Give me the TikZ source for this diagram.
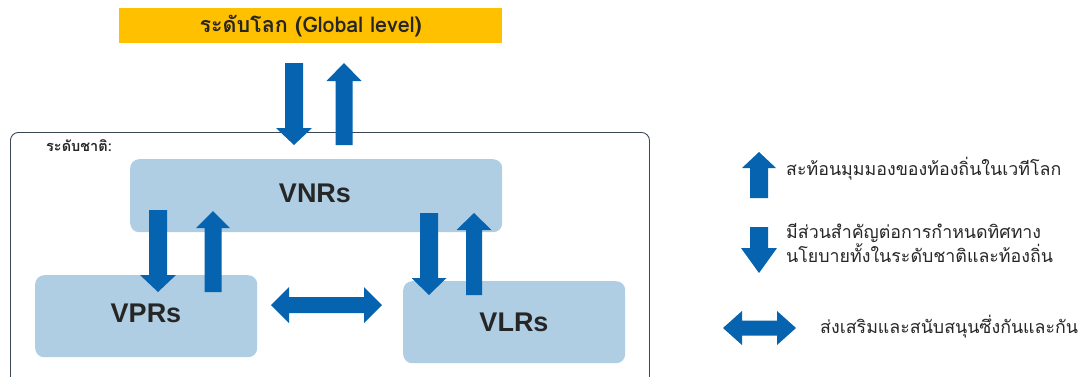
\documentclass[tikz,border=0pt]{standalone}
\usepackage{fontspec}
\setmainfont{Liberation Sans}
\newfontfamily\thaifont[Script=Thai]{Loma}
\definecolor{arrowblue}{RGB}{5,99,175}
\definecolor{boxblue}{RGB}{176,206,227}
\definecolor{gold}{RGB}{255,192,0}
\definecolor{framecol}{RGB}{60,70,85}
\definecolor{textcol}{RGB}{38,38,38}
\newcommand\BlockArr[6]{\fill[arrowblue] ({#1-#5},#2) -- ({#1+#5},#2) -- ({#1+#5},#4) -- ({#1+#6},#4) -- (#1,#3) -- ({#1-#6},#4) -- ({#1-#5},#4) -- cycle;}
\newcommand\DblArr[6]{\fill[arrowblue] (#1,#3) -- ({#1+#4},{#3-#6}) -- ({#1+#4},{#3-#5}) -- ({#2-#4},{#3-#5}) -- ({#2-#4},{#3-#6}) -- (#2,#3) -- ({#2-#4},{#3+#6}) -- ({#2-#4},{#3+#5}) -- ({#1+#4},{#3+#5}) -- ({#1+#4},{#3+#6}) -- cycle;}
\tikzset{
  levelbox/.style={fill=boxblue, rounded corners=9pt, inner sep=0pt, anchor=north west},
  boxtext/.style={font=\bfseries\fontsize{27}{30}\selectfont, text=textcol},
  legendtext/.style={font=\thaifont\fontsize{17.8}{24}\selectfont, text=textcol, anchor=west, align=left, inner sep=0pt}
}
\begin{document}
\begin{tikzpicture}[x=1pt,y=-1pt]
\useasboundingbox (0,0) rectangle (1086,376);
% global level bar
\node[fill=gold, minimum width=383pt, minimum height=35pt, inner sep=0pt, anchor=north west,
  font=\thaifont\bfseries\fontsize{21.5}{24}\selectfont, text=textcol] (global) at (119,8) {ระดับโลก (Global level)};
% national frame
\node[draw=framecol, line width=0.9pt, rounded corners=8pt, minimum width=639pt, minimum height=260pt, inner sep=0pt, anchor=north west] (national) at (10,132) {};
\node[anchor=west, inner sep=0pt, font=\thaifont\bfseries\fontsize{14.5}{16}\selectfont, text=textcol] (natlabel) at (46,146) {ระดับชาติ:};
% level boxes
\node[levelbox, minimum width=372pt, minimum height=73pt] (vnr) at (130,159) {};
\node[boxtext] (vnrtxt) at (315,193) {VNRs};
\node[levelbox, minimum width=222pt, minimum height=82pt] (vpr) at (35,275) {};
\node[boxtext] (vprtxt) at (146,313) {VPRs};
\node[levelbox, minimum width=222pt, minimum height=82pt] (vlr) at (403,281) {};
\node[boxtext] (vlrtxt) at (514,322) {VLRs};
% arrows
\BlockArr{294}{63}{145}{128}{9}{18}
\BlockArr{344}{145}{63}{81}{8.5}{17.5}
\BlockArr{158}{210}{292}{275}{9}{18}
\BlockArr{213}{292}{211}{228}{8.5}{17}
\BlockArr{429}{213}{295}{278}{9}{17.5}
\BlockArr{474}{295}{213}{230}{8}{17.5}
\DblArr{271}{382}{305}{18}{8}{18}
% legend
\BlockArr{759}{198}{152}{168}{9}{17}
\BlockArr{759}{227}{273}{248}{9}{18}
\DblArr{723}{796}{328}{19}{7.5}{17}
\node[legendtext] (leg1) at (786,169) {สะท้อนมุมมองของท้องถิ่นในเวทีโลก};
\node[legendtext] (leg2) at (786,243) {มีส่วนสำคัญต่อการกำหนดทิศทาง\\นโยบายทั้งในระดับชาติและท้องถิ่น};
\node[legendtext] (leg3) at (820,327) {ส่งเสริมและสนับสนุนซึ่งกันและกัน};
\end{tikzpicture}
\end{document}
